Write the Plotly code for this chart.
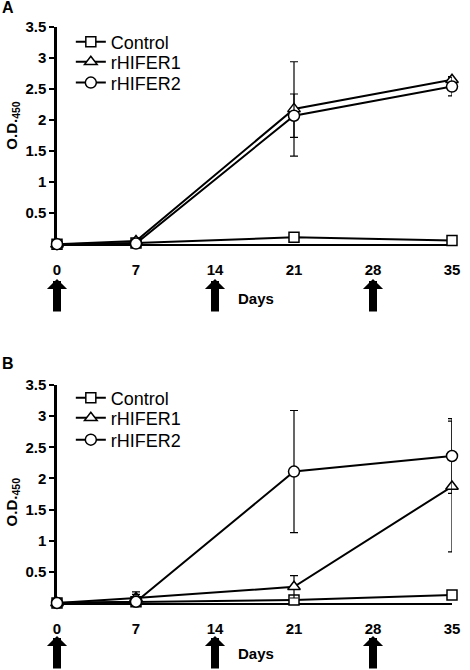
import plotly.graph_objects as go
from plotly.subplots import make_subplots

days = [0, 7, 21, 35]
x_ticks = [0, 7, 14, 21, 28, 35]
injection_days = [0, 14, 28]
y_ticks = [0.5, 1, 1.5, 2, 2.5, 3, 3.5]
y_tick_labels = ["0.5", "1", "1.5", "2", "2.5", "3", "3.5"]

# Panel A
a_control = [0, 0.02, 0.11, 0.06]
a_control_err = [0, 0, 0, 0]
a_rhifer1 = [0, 0.05, 2.18, 2.65]
a_rhifer1_err = [0, 0, 0.76, 0.05]
a_rhifer2 = [0, 0.01, 2.07, 2.54]
a_rhifer2_err = [0, 0, 0.35, 0.15]

# Panel B
b_control = [0, 0.02, 0.05, 0.13]
b_control_err = [0, 0, 0, 0]
b_rhifer1 = [0, 0.08, 0.26, 1.87]
b_rhifer1_err = [0, 0.10, 0.18, 1.05]
b_rhifer2 = [0, 0.02, 2.11, 2.36]
b_rhifer2_err = [0, 0.12, 0.98, 0.60]

series_names = ["Control", "rHIFER1", "rHIFER2"]
symbols = ["square", "triangle-up", "circle"]
sizes = [10, 11, 11]

FONT = "Liberation Sans, Arial, Helvetica, sans-serif"

fig = make_subplots(rows=2, cols=1, vertical_spacing=0.0)

# one legend per entry so rows can be spaced like the reference
legend_ids = {1: ["legend", "legend3", "legend4"], 2: ["legend2", "legend5", "legend6"]}
legend_rows = {1: [0.974, 0.939, 0.903], 2: [0.356, 0.321, 0.283]}

panels = [
    (1, [(a_control, a_control_err), (a_rhifer1, a_rhifer1_err), (a_rhifer2, a_rhifer2_err)]),
    (2, [(b_control, b_control_err), (b_rhifer1, b_rhifer1_err), (b_rhifer2, b_rhifer2_err)]),
]
for row, data in panels:
    for (vals, errs), name, sym, sz, leg in zip(data, series_names, symbols, sizes, legend_ids[row]):
        fig.add_trace(go.Scatter(
            x=days, y=vals, name=name, mode="lines+markers",
            line=dict(color="black", width=2),
            marker=dict(symbol=sym, size=sz, color="white",
                        line=dict(color="black", width=1.5)),
            error_y=dict(type="data", array=errs, visible=True,
                         color="black", thickness=1.2, width=4),
            cliponaxis=False, legend=leg,
        ), row=row, col=1)

for i, dom in [(1, [0.623, 1.0]), (2, [0.0, 0.3785])]:
    fig.update_xaxes(
        range=[0, 35], tickvals=x_ticks, ticktext=["<b>%s</b>" % t for t in x_ticks],
        showline=True, linecolor="black", linewidth=2, ticks="", showgrid=False,
        zeroline=False, tickfont=dict(family=FONT, size=15, color="black"),
        ticklabelstandoff=11, layer="below traces", row=i, col=1)
    fig.update_yaxes(
        range=[0, 3.5], tickvals=y_ticks, ticktext=["<b>%s</b>" % t for t in y_tick_labels],
        domain=dom,
        showline=True, linecolor="black", linewidth=2.5, ticks="outside",
        ticklen=5, tickwidth=2, tickcolor="black", showgrid=False, zeroline=False,
        tickfont=dict(family=FONT, size=15, color="black"),
        layer="below traces", row=i, col=1)

ann = []
# panel letters
for lbl, yy in [("A", 1.033), ("B", 0.415)]:
    ann.append(dict(text="<b>%s</b>" % lbl, xref="paper", yref="paper", x=-0.123, y=yy,
                    xanchor="center", yanchor="middle",
                    showarrow=False, font=dict(family=FONT, size=16, color="black")))
# y titles
for yy in [0.83, 0.176]:
    ann.append(dict(text="<b>O.D.<sub>450</sub></b>", xref="paper", yref="paper",
                    x=-0.112, y=yy, textangle=-90, showarrow=False,
                    xanchor="center", yanchor="middle",
                    font=dict(family=FONT, size=15, color="black")))
# Days labels
for yy in [0.528, -0.087]:
    ann.append(dict(text="<b>Days</b>", xref="paper", yref="paper", x=0.505, y=yy,
                    xanchor="center", yanchor="middle",
                    showarrow=False, font=dict(family=FONT, size=15, color="black")))
# injection arrows
for xr, yy in [("x", 0.5625), ("x2", -0.0573)]:
    for d in injection_days:
        ann.append(dict(text="", xref=xr, yref="paper", x=d, y=yy,
                        showarrow=True, arrowhead=1, arrowwidth=8, arrowsize=0.42,
                        arrowcolor="black", ax=0, ay=34, standoff=0))

legend_layout = {}
for row in (1, 2):
    for lid, yy in zip(legend_ids[row], legend_rows[row]):
        legend_layout[lid] = dict(
            x=0.035, y=yy, xanchor="left", yanchor="middle",
            font=dict(family=FONT, size=18, color="black"),
            bgcolor="rgba(0,0,0,0)", borderwidth=0)

fig.update_layout(
    width=470, height=670, margin=dict(l=57, r=10, t=27, b=67),
    paper_bgcolor="white", plot_bgcolor="white",
    annotations=ann, showlegend=True, **legend_layout,
)

fig.write_html("out.html", post_script="document.body.style.margin='0px';",
               config={"displayModeBar": False})
